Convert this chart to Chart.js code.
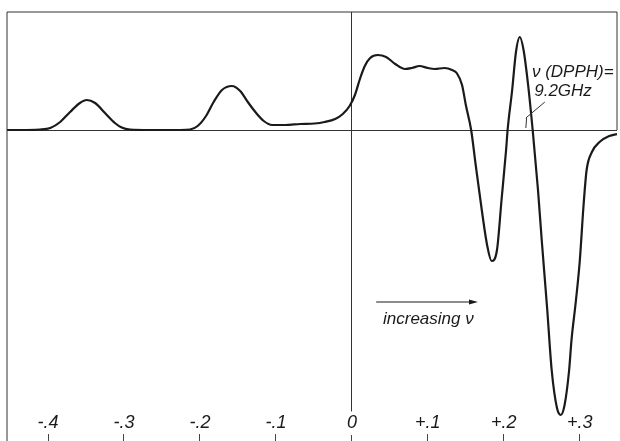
<!DOCTYPE html>
<html>
<head>
<meta charset="utf-8">
<script src="https://cdn.jsdelivr.net/npm/chart.js@4/dist/chart.umd.min.js"></script>
<style>
  body { margin: 0; background: #fff; }
  canvas { display: block; }
</style>
</head>
<body>
<canvas id="esr" width="620" height="441"></canvas>
<script>
// field offset (arbitrary units)
var fieldOffset = [
  -0.454, -0.437, -0.411, -0.397, -0.384, -0.371, -0.358, -0.349, -0.338, -0.325,
  -0.312, -0.303, -0.292, -0.266, -0.226, -0.213, -0.203, -0.192, -0.182, -0.171,
  -0.158, -0.147, -0.137, -0.126, -0.116, -0.105, -0.088, -0.068, -0.049, -0.036,
  -0.022, -0.012, -0.003, 0.004, 0.011, 0.017, 0.024, 0.034, 0.045, 0.057,
  0.070, 0.079, 0.089, 0.100, 0.109, 0.122, 0.132, 0.138, 0.145, 0.150,
  0.157, 0.163, 0.171, 0.178, 0.184, 0.191, 0.197, 0.203, 0.205, 0.211,
  0.216, 0.221, 0.226, 0.232, 0.238, 0.245, 0.250, 0.257, 0.263, 0.270,
  0.275, 0.280, 0.286, 0.289, 0.295, 0.300, 0.305, 0.309, 0.316, 0.326,
  0.339, 0.349
];
// absorption derivative signal
var signal = [
  0, 0, 0.5, 2, 8, 18, 27, 30, 27, 17,
  7, 2.5, 0.5, 0, 0, 0.5, 4, 14, 28, 40,
  44, 39, 28, 17, 9, 5, 5, 6, 6.5, 8,
  11, 16, 24, 35, 52, 64, 72, 75, 73, 66,
  61, 62, 64, 62, 61, 62, 60, 57, 45, 25,
  0, -35, -80, -115, -131, -120, -70, -20, 0, 40,
  78, 93, 80, 45, 0, -60, -111, -178, -240, -278,
  -285, -275, -240, -211, -170, -131, -75, -40, -22, -12,
  -6, -4
];
var tickValues = [-0.4, -0.3, -0.2, -0.1, 0, 0.1, 0.2, 0.3];
var tickLabels = ['-.4', '-.3', '-.2', '-.1', '0', '+.1', '+.2', '+.3'];

var points = [];
for (var i = 0; i < fieldOffset.length; i++) {
  points.push({x: fieldOffset[i], y: signal[i]});
}

var ink = '#1a1a1a';
var fontFamily = '"Liberation Sans", "DejaVu Sans", sans-serif';

// frame, DPPH marker and "increasing v" arrow
var notes = {
  id: 'notes',
  afterDraw: function(chart) {
    var c = chart.ctx, a = chart.chartArea;
    var xs = chart.scales.x, ys = chart.scales.y;
    var px = function(v) { return xs.getPixelForValue(v); };
    var py = function(v) { return ys.getPixelForValue(v); };
    c.save();
    c.strokeStyle = '#333';
    c.lineWidth = 1;
    c.beginPath();
    c.moveTo(a.left, chart.height);
    c.lineTo(a.left, a.top);
    c.lineTo(a.right, a.top);
    c.lineTo(a.right, py(0));
    c.stroke();

    c.fillStyle = ink;
    c.font = 'italic 17px ' + fontFamily;
    c.textBaseline = 'middle';
    c.textAlign = 'left';
    c.fillText('\u03BD (DPPH)=', px(0.237), py(58));
    c.fillText('9.2GHz', px(0.240), py(39));
    c.beginPath();
    c.moveTo(px(0.254), py(28));
    c.lineTo(px(0.229), py(12));
    c.moveTo(px(0.230), py(12));
    c.lineTo(px(0.229), py(2));
    c.stroke();

    // arrow
    var y0 = py(-172), x0 = px(0.032), x1 = px(0.166);
    c.strokeStyle = ink;
    c.beginPath();
    c.moveTo(x0, y0);
    c.lineTo(x1 - 4, y0);
    c.stroke();
    c.beginPath();
    c.moveTo(x1, y0);
    c.lineTo(x1 - 9, y0 - 2.5);
    c.lineTo(x1 - 9, y0 + 2.5);
    c.closePath();
    c.fill();
    c.font = 'italic 17px ' + fontFamily;
    c.fillText('increasing \u03BD', px(0.041), py(-189));
    c.restore();
  }
};

new Chart(document.getElementById('esr'), {
  type: 'line',
  data: {
    datasets: [{
      data: points,
      borderColor: ink,
      borderWidth: 2.2,
      pointRadius: 0,
      fill: false,
      cubicInterpolationMode: 'monotone'
    }]
  },
  options: {
    responsive: false,
    animation: false,
    layout: {padding: {left: 7, top: 12, right: 3, bottom: 0}},
    plugins: {legend: {display: false}, tooltip: {enabled: false}},
    scales: {
      x: {
        type: 'linear',
        min: -0.454,
        max: 0.349,
        afterBuildTicks: function(s) {
          s.ticks = tickValues.map(function(v) { return {value: v}; });
        },
        border: {display: false},
        grid: {
          color: function(ctx) { return ctx.tick && ctx.tick.value === 0 ? '#333' : 'rgba(0,0,0,0)'; },
          tickColor: '#444',
          tickLength: 7,
          lineWidth: 1
        },
        ticks: {
          mirror: true,
          padding: 0,
          autoSkip: false,
          maxRotation: 0,
          color: ink,
          font: {family: fontFamily, size: 18, style: 'italic'},
          showLabelBackdrop: true,
          backdropColor: function(ctx) { return ctx.tick && ctx.tick.value === 0 ? '#fff' : 'rgba(0,0,0,0)'; },
          backdropPadding: 1,
          callback: function(v) {
            var k = tickValues.indexOf(Math.round(v * 10) / 10);
            return k < 0 ? '' : tickLabels[k];
          }
        }
      },
      y: {
        min: -304,
        max: 118,
        afterBuildTicks: function(s) { s.ticks = [{value: 0}]; },
        border: {display: false},
        grid: {color: '#333', lineWidth: 1, drawTicks: false},
        ticks: {display: false}
      }
    }
  },
  plugins: [notes]
});
</script>
</body>
</html>
